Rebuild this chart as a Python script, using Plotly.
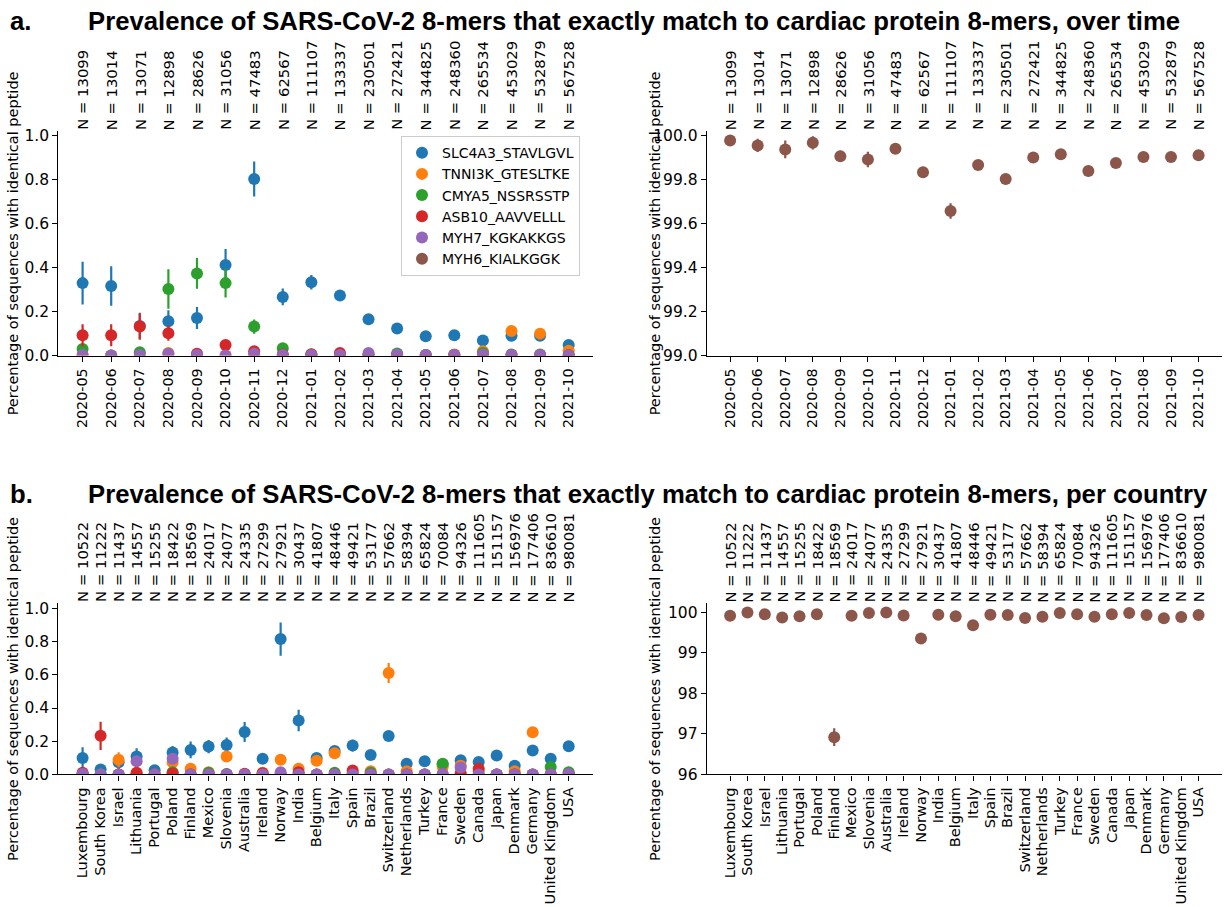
import plotly.graph_objects as go

# ---------------- data ----------------
series_names = ["SLC4A3_STAVLGVL", "TNNI3K_GTESLTKE", "CMYA5_NSSRSSTP",
                "ASB10_AAVVELLL", "MYH7_KGKAKKGS", "MYH6_KIALKGGK"]
series_colors = ["#1f77b4", "#ff7f0e", "#2ca02c", "#d62728", "#9467bd", "#8c564b"]

months = ["2020-05", "2020-06", "2020-07", "2020-08", "2020-09", "2020-10",
          "2020-11", "2020-12", "2021-01", "2021-02", "2021-03", "2021-04",
          "2021-05", "2021-06", "2021-07", "2021-08", "2021-09", "2021-10"]
n_month = [13099, 13014, 13071, 12898, 28626, 31056, 47483, 62567, 111107,
           133337, 230501, 272421, 344825, 248360, 265534, 453029, 532879, 567528]

slc4a3_t = [0.330, 0.317, 0.135, 0.156, 0.171, 0.413, 0.804, 0.267, 0.334,
            0.274, 0.165, 0.123, 0.088, 0.093, 0.069, 0.090, 0.090, 0.048]
slc4a3_t_err = [0.097, 0.090, 0.060, 0.050, 0.050, 0.072, 0.080, 0.038, 0.033,
                0.025, 0.015, 0.012, 0.009, 0.011, 0.009, 0.008, 0.007, 0.005]
tnni3k_t = [0.002, 0.0, 0.0, 0.012, 0.0, 0.0, 0.0, 0.0, 0.0,
            0.003, 0.003, 0.004, 0.002, 0.005, 0.020, 0.112, 0.100, 0.022]
tnni3k_t_err = [0.003, 0.0, 0.0, 0.010, 0.0, 0.0, 0.0, 0.0, 0.0,
                0.002, 0.002, 0.002, 0.001, 0.002, 0.004, 0.008, 0.008, 0.005]
cmya5_t = [0.030, 0.0, 0.015, 0.303, 0.374, 0.330, 0.132, 0.033, 0.005,
           0.002, 0.003, 0.010, 0.003, 0.003, 0.012, 0.005, 0.005, 0.003]
cmya5_t_err = [0.015, 0.0, 0.010, 0.090, 0.070, 0.065, 0.032, 0.010, 0.003,
               0.002, 0.002, 0.003, 0.002, 0.002, 0.003, 0.002, 0.002, 0.001]
asb10_t = [0.093, 0.093, 0.132, 0.102, 0.008, 0.048, 0.020, 0.005, 0.006,
           0.012, 0.003, 0.003, 0.002, 0.003, 0.002, 0.002, 0.002, 0.001]
asb10_t_err = [0.050, 0.050, 0.060, 0.035, 0.008, 0.012, 0.007, 0.004, 0.004,
               0.004, 0.002, 0.002, 0.001, 0.002, 0.001, 0.001, 0.001, 0.001]
myh7_t = [0.003, 0.0, 0.003, 0.008, 0.003, 0.0, 0.008, 0.003, 0.003,
          0.003, 0.012, 0.005, 0.003, 0.003, 0.005, 0.003, 0.003, 0.002]
myh7_t_err = [0.003, 0.0, 0.003, 0.006, 0.003, 0.0, 0.004, 0.002, 0.002,
              0.002, 0.003, 0.002, 0.001, 0.001, 0.002, 0.001, 0.001, 0.001]
myh6_t = [99.978, 99.955, 99.937, 99.967, 99.906, 99.891, 99.940, 99.833, 99.657,
          99.866, 99.803, 99.900, 99.915, 99.839, 99.875, 99.903, 99.903, 99.910]
myh6_t_err = [0.020, 0.030, 0.040, 0.030, 0.025, 0.035, 0.010, 0.025, 0.035,
              0.010, 0.010, 0.008, 0.007, 0.009, 0.008, 0.006, 0.005, 0.005]

countries = ["Luxembourg", "South Korea", "Israel", "Lithuania", "Portugal", "Poland",
             "Finland", "Mexico", "Slovenia", "Australia", "Ireland", "Norway",
             "India", "Belgium", "Italy", "Spain", "Brazil", "Switzerland",
             "Netherlands", "Turkey", "France", "Sweden", "Canada", "Japan",
             "Denmark", "Germany", "United Kingdom", "USA"]
n_country = [10522, 11222, 11437, 14557, 15255, 18422, 18569, 24017, 24077, 24335,
             27299, 27921, 30437, 41807, 48446, 49421, 53177, 57662, 58394, 65824,
             70084, 94326, 111605, 151157, 156976, 177406, 836610, 980081]

slc4a3_c = [0.099, 0.030, 0.073, 0.108, 0.026, 0.132, 0.148, 0.168, 0.178, 0.256,
            0.095, 0.815, 0.325, 0.099, 0.142, 0.174, 0.118, 0.231, 0.065, 0.079,
            0.060, 0.085, 0.075, 0.114, 0.053, 0.144, 0.095, 0.170]
slc4a3_c_err = [0.065, 0.020, 0.040, 0.050, 0.015, 0.040, 0.050, 0.040, 0.045, 0.060,
                0.025, 0.100, 0.065, 0.020, 0.020, 0.035, 0.020, 0.030, 0.008, 0.010,
                0.010, 0.010, 0.009, 0.010, 0.008, 0.010, 0.004, 0.005]
tnni3k_c = [0.005, 0.0, 0.089, 0.005, 0.0, 0.073, 0.034, 0.014, 0.108, 0.0,
            0.010, 0.089, 0.034, 0.083, 0.128, 0.010, 0.020, 0.611, 0.020, 0.0,
            0.045, 0.053, 0.020, 0.0, 0.020, 0.254, 0.003, 0.010]
tnni3k_c_err = [0.005, 0.0, 0.045, 0.005, 0.0, 0.030, 0.020, 0.010, 0.030, 0.0,
                0.008, 0.020, 0.015, 0.020, 0.020, 0.008, 0.008, 0.060, 0.008, 0.0,
                0.010, 0.010, 0.006, 0.0, 0.005, 0.015, 0.002, 0.003]
cmya5_c = [0.0, 0.0, 0.0, 0.0, 0.0, 0.014, 0.0, 0.010, 0.003, 0.0,
           0.003, 0.0, 0.0, 0.0, 0.010, 0.003, 0.010, 0.0, 0.0, 0.0,
           0.065, 0.0, 0.0, 0.0, 0.0, 0.0, 0.045, 0.014]
cmya5_c_err = [0.0, 0.0, 0.0, 0.0, 0.0, 0.008, 0.0, 0.006, 0.003, 0.0,
               0.003, 0.0, 0.0, 0.0, 0.006, 0.003, 0.004, 0.0, 0.0, 0.0,
               0.010, 0.0, 0.0, 0.0, 0.0, 0.0, 0.005, 0.003]
asb10_c = [0.010, 0.233, 0.0, 0.010, 0.0, 0.006, 0.0, 0.0, 0.0, 0.005,
           0.007, 0.0, 0.014, 0.0, 0.0, 0.024, 0.0, 0.0, 0.0, 0.0,
           0.0, 0.006, 0.034, 0.0, 0.0, 0.0, 0.0, 0.0]
asb10_c_err = [0.008, 0.085, 0.0, 0.008, 0.0, 0.005, 0.0, 0.0, 0.0, 0.004,
               0.005, 0.0, 0.008, 0.0, 0.0, 0.010, 0.0, 0.0, 0.0, 0.0,
               0.0, 0.004, 0.012, 0.0, 0.0, 0.0, 0.0, 0.0]
myh7_c = [0.003, 0.0, 0.0, 0.079, 0.0, 0.095, 0.0, 0.0, 0.0, 0.0,
          0.0, 0.014, 0.0, 0.0, 0.0, 0.0, 0.0, 0.0, 0.0, 0.0,
          0.003, 0.042, 0.0, 0.0, 0.0, 0.0, 0.0, 0.003]
myh7_c_err = [0.003, 0.0, 0.0, 0.030, 0.0, 0.030, 0.0, 0.0, 0.0, 0.0,
              0.0, 0.008, 0.0, 0.0, 0.0, 0.0, 0.0, 0.0, 0.0, 0.0,
              0.003, 0.015, 0.0, 0.0, 0.0, 0.0, 0.0, 0.002]
myh6_c = [99.91, 99.99, 99.95, 99.87, 99.90, 99.95, 96.92, 99.91, 99.98, 99.99,
          99.92, 99.35, 99.94, 99.90, 99.68, 99.94, 99.93, 99.86, 99.89, 99.98,
          99.95, 99.89, 99.95, 99.98, 99.93, 99.85, 99.88, 99.93]
myh6_c_err = [0.03, 0.01, 0.02, 0.03, 0.03, 0.02, 0.22, 0.02, 0.01, 0.01,
              0.02, 0.06, 0.02, 0.02, 0.04, 0.01, 0.01, 0.01, 0.01, 0.01,
              0.01, 0.01, 0.01, 0.01, 0.01, 0.01, 0.005, 0.005]

title_a = "Prevalence of SARS-CoV-2 8-mers that exactly match to cardiac protein 8-mers, over time"
title_b = "Prevalence of SARS-CoV-2 8-mers that exactly match to cardiac protein 8-mers, per country"
ylabel = "Percentage of sequences with identical peptide"

# ---------------- layout geometry (pixels) ----------------
W, H = 1224, 907
def px_x(p): return p / W
def px_y(p): return 1 - p / H

left_dom = [px_x(58.3), px_x(593)]
right_dom = [px_x(706.7), px_x(1222)]
top_dom = [px_y(356.7), px_y(129)]
bot_dom = [px_y(781.7), px_y(608)]

FONT = "DejaVu Sans"
fig = go.Figure()

left_time = [(slc4a3_t, slc4a3_t_err), (tnni3k_t, tnni3k_t_err), (cmya5_t, cmya5_t_err),
             (asb10_t, asb10_t_err), (myh7_t, myh7_t_err)]
left_country = [(slc4a3_c, slc4a3_c_err), (tnni3k_c, tnni3k_c_err), (cmya5_c, cmya5_c_err),
                (asb10_c, asb10_c_err), (myh7_c, myh7_c_err)]

def add_series(x, y, err, color, name, xa, ya, showlegend):
    fig.add_trace(go.Scatter(
        x=x, y=y, mode="markers", name=name, showlegend=showlegend,
        marker=dict(color=color, size=12, line=dict(width=0)),
        error_y=dict(type="data", array=err, visible=True, color=color,
                     thickness=2.2, width=0),
        xaxis=xa, yaxis=ya, cliponaxis=True))

for i, (vals, errs) in enumerate(left_time):
    add_series(months, vals, errs, series_colors[i], series_names[i], "x", "y", True)
add_series(months, myh6_t, myh6_t_err, series_colors[5], series_names[5], "x2", "y2", True)
for i, (vals, errs) in enumerate(left_country):
    add_series(countries, vals, errs, series_colors[i], series_names[i], "x3", "y3", False)
add_series(countries, myh6_c, myh6_c_err, series_colors[5], series_names[5], "x4", "y4", False)

common_x = dict(type="category", showline=True, linecolor="black", linewidth=1.1,
                ticks="outside", ticklen=5, tickwidth=1.1, tickcolor="black",
                tickangle=-90, showgrid=False, zeroline=False,
                mirror=False, ticklabelstandoff=1, tickmode="array")
common_y = dict(showline=True, linecolor="black", linewidth=1.1,
                ticks="outside", ticklen=5, tickwidth=1.1, tickcolor="black",
                tickfont=dict(family=FONT, size=15.5, color="black"),
                showgrid=False, zeroline=False, mirror=False)
date_font = dict(family=FONT, size=14.3, color="black")
country_font = dict(family=FONT, size=14.6, color="black")

fig.update_layout(
    xaxis=dict(common_x, domain=left_dom, range=[-0.85, 17.85], anchor="y",
               tickfont=date_font, tickvals=months, ticktext=months),
    yaxis=dict(common_y, domain=top_dom, range=[0, 1.022], anchor="x",
               tickvals=[0, 0.2, 0.4, 0.6, 0.8, 1.0], tickformat=".1f"),
    xaxis2=dict(common_x, domain=right_dom, range=[-0.85, 17.85], anchor="y2",
                tickfont=date_font, tickvals=months, ticktext=months),
    yaxis2=dict(common_y, domain=top_dom, range=[99.0, 100.02], anchor="x2",
                tickvals=[99.0, 99.2, 99.4, 99.6, 99.8, 100.0], tickformat=".1f"),
    xaxis3=dict(common_x, domain=left_dom, range=[-1.35, 28.35], anchor="y3",
                tickfont=country_font, tickvals=countries, ticktext=countries),
    yaxis3=dict(common_y, domain=bot_dom, range=[0, 1.03], anchor="x3",
                tickvals=[0, 0.2, 0.4, 0.6, 0.8, 1.0], tickformat=".1f"),
    xaxis4=dict(common_x, domain=right_dom, range=[-1.35, 28.35], anchor="y4",
                tickfont=country_font, tickvals=countries, ticktext=countries),
    yaxis4=dict(common_y, domain=bot_dom, range=[96, 100.22], anchor="x4",
                tickvals=[96, 97, 98, 99, 100]),
)

annotations = []
# N labels above each category
for xa, cats, ns, dom in [("x", months, n_month, top_dom), ("x2", months, n_month, top_dom),
                          ("x3", countries, n_country, bot_dom), ("x4", countries, n_country, bot_dom)]:
    for c, n in zip(cats, ns):
        annotations.append(dict(x=c, xref=xa, y=dom[1], yref="paper",
                                text=f"N = {n}", textangle=-90, showarrow=False,
                                xanchor="center", yanchor="bottom", yshift=-1,
                                font=dict(family=FONT, size=14.8, color="black")))
# y-axis titles
for xpx, dom in [(13, top_dom), (655, top_dom), (13, bot_dom), (655, bot_dom)]:
    annotations.append(dict(x=px_x(xpx), xref="paper", y=(dom[0] + dom[1]) / 2, yref="paper",
                            text=ylabel, textangle=-90, showarrow=False,
                            xanchor="center", yanchor="middle",
                            font=dict(family=FONT, size=14.5, color="black")))
# panel titles
TF = "Liberation Sans, Arial, sans-serif"
for lab, txt, ypx in [("a.", title_a, 17), ("b.", title_b, 497)]:
    annotations.append(dict(x=px_x(8), xref="paper", y=px_y(ypx), yref="paper",
                            text=f"<b>{lab}</b>", showarrow=False, xanchor="left",
                            yanchor="middle", font=dict(family=TF, size=25.7, color="black")))
    annotations.append(dict(x=px_x(86), xref="paper", y=px_y(ypx), yref="paper",
                            text=f"<b>{txt}</b>", showarrow=False, xanchor="left",
                            yanchor="middle", font=dict(family=TF, size=25.7, color="black")))

fig.update_layout(
    annotations=annotations,
    width=W, height=H, margin=dict(l=0, r=0, t=0, b=0),
    paper_bgcolor="white", plot_bgcolor="white",
    legend=dict(x=px_x(401), y=px_y(134), xanchor="left", yanchor="top",
                bgcolor="rgba(255,255,255,0.8)", bordercolor="#cccccc", borderwidth=1,
                font=dict(family=FONT, size=14, color="black"),
                itemwidth=30, tracegroupgap=0),
    showlegend=True,
)

fig.write_html("out.html", config={"displayModeBar": False})

# remove the browser's default page margin so the figure sits at (0, 0)
with open("out.html", "r", encoding="utf-8") as f:
    html = f.read()
html = html.replace("<head>", "<head><style>html,body{margin:0;padding:0;overflow:hidden;}</style>", 1)
with open("out.html", "w", encoding="utf-8") as f:
    f.write(html)
